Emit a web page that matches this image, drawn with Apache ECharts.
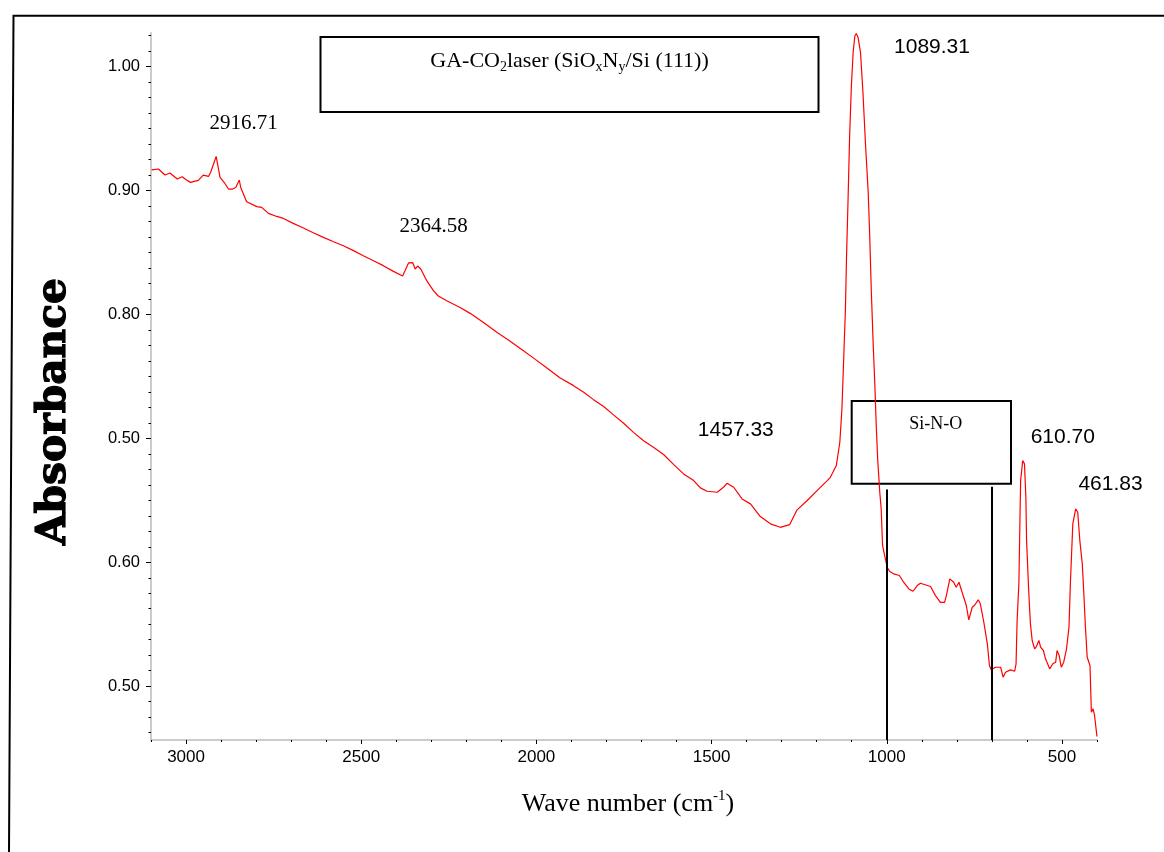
<!DOCTYPE html>
<html>
<head>
<meta charset="utf-8">
<title>FTIR GA-CO2laser</title>
<script src="https://cdn.jsdelivr.net/npm/echarts@6/dist/echarts.min.js"></script>
<style>
  html, body { margin: 0; padding: 0; background: #fff; }
  #main { width: 1164px; height: 852px; }
</style>
</head>
<body>
<div id="main"></div>
<script>
// spectrum (cm-1 / absorbance)
var wavenumber = [3098, 3079, 3060, 3046, 3025, 3011, 3000, 2987, 2965, 2951, 2936, 2930, 2914, 2910, 2903, 2889, 2879, 2867, 2858, 2848,
    2844, 2827, 2798, 2784, 2765, 2741, 2722, 2694, 2665, 2637, 2608, 2579, 2551, 2522, 2494, 2465, 2437, 2408, 2382, 2375,
    2365, 2353, 2346, 2339, 2330, 2313, 2294, 2280, 2256, 2218, 2189, 2151, 2113, 2080, 2043, 2006, 1969, 1932, 1894, 1865,
    1837, 1808, 1780, 1751, 1723, 1694, 1666, 1637, 1608, 1580, 1551, 1532, 1513, 1484, 1466, 1456, 1437, 1413, 1389, 1361,
    1332, 1304, 1277, 1256, 1227, 1199, 1170, 1161, 1144, 1134, 1128, 1123, 1118, 1115, 1110, 1106, 1101, 1096, 1091, 1087,
    1082, 1075, 1068, 1061, 1053, 1049, 1044, 1039, 1034, 1030, 1026, 1020, 1016, 1012, 1007, 999, 992, 980, 964, 952,
    937, 925, 913, 904, 875, 861, 847, 835, 830, 820, 815, 809, 802, 794, 785, 773, 766, 761, 756, 750,
    739, 733, 723, 713, 707, 702, 690, 675, 668, 661, 647, 635, 631, 628, 623, 618, 612, 607, 603, 601,
    595, 590, 585, 578, 573, 566, 561, 553, 547, 535, 526, 518, 514, 508, 502, 495, 487, 480, 476, 471,
    469, 461, 455, 449, 442, 438, 433, 428, 420, 416, 411, 407, 401, 400];
var absorbance = [0.9165, 0.9173, 0.9124, 0.9140, 0.9092, 0.9110, 0.9086, 0.9065, 0.9081, 0.9124, 0.9113, 0.9145, 0.9274, 0.9266, 0.9105, 0.9056, 0.9011, 0.9011, 0.9024, 0.9084,
    0.9024, 0.8909, 0.8869, 0.8863, 0.8815, 0.8790, 0.8774, 0.8734, 0.8697, 0.8659, 0.8621, 0.8586, 0.8554, 0.8514, 0.8473, 0.8433, 0.8393, 0.8347, 0.8310, 0.8352,
    0.8415, 0.8417, 0.8366, 0.8390, 0.8366, 0.8272, 0.8191, 0.8148, 0.8110, 0.8056, 0.8008, 0.7935, 0.7855, 0.7794, 0.7719, 0.7643, 0.7566, 0.7487, 0.7425, 0.7371,
    0.7312, 0.7256, 0.7189, 0.7121, 0.7048, 0.6981, 0.6927, 0.6869, 0.6788, 0.6713, 0.6659, 0.6600, 0.6573, 0.6565, 0.6605, 0.6637, 0.6605, 0.6511, 0.6471, 0.6369,
    0.6310, 0.6282, 0.6304, 0.6423, 0.6498, 0.6578, 0.6659, 0.6685, 0.6780, 0.6968, 0.7237, 0.7640, 0.8044, 0.8447, 0.8984, 0.9441, 0.9844, 1.0113, 1.0248, 1.0265,
    1.0234, 1.0113, 0.9790, 0.9387, 0.8984, 0.8661, 0.8177, 0.7774, 0.7425, 0.7102, 0.6834, 0.6565, 0.6431, 0.6135, 0.6068, 0.5960, 0.5927, 0.5906, 0.5893, 0.5839,
    0.5785, 0.5766, 0.5812, 0.5831, 0.5804, 0.5731, 0.5677, 0.5677, 0.5731, 0.5866, 0.5879, 0.5839, 0.5798, 0.5839, 0.5758, 0.5651, 0.5535, 0.5530, 0.5637, 0.5651,
    0.5697, 0.5665, 0.5516, 0.5342, 0.5167, 0.5132, 0.5153, 0.5153, 0.5073, 0.5113, 0.5132, 0.5121, 0.5181, 0.5530, 0.5826, 0.6659, 0.6820, 0.6794, 0.6524, 0.6175,
    0.5772, 0.5503, 0.5369, 0.5302, 0.5320, 0.5369, 0.5315, 0.5288, 0.5221, 0.5140, 0.5181, 0.5194, 0.5288, 0.5248, 0.5153, 0.5194, 0.5302, 0.5476, 0.5826, 0.6175,
    0.6310, 0.6431, 0.6403, 0.6175, 0.5987, 0.5772, 0.5476, 0.5234, 0.5167, 0.4790, 0.4818, 0.4764, 0.4616, 0.4594];

// axis ticks (the y labels are kept as printed in the figure)
var xTickValues = [500, 1000, 1500, 2000, 2500, 3000];
var xTickLabels = ['500', '1000', '1500', '2000', '2500', '3000'];
var yTickValues = [0.5, 0.6, 0.7, 0.8, 0.9, 1.0];
var yTickLabels = ['0.50', '0.60', '0.50', '0.80', '0.90', '1.00'];

// Si-N-O band markers
var bandLines = [1000, 700];
var bandTops = [0.6586, 0.661];

var xMin = 400, xMax = 3100;
var yMin = 0.4566, yMax = 1.027;

var xMinor = [];
for (var w = 400; w <= 3100; w += 100) xMinor.push(w);
var yMinor = [];
for (var k = -3; k <= 42; k++) yMinor.push(+(0.5 + k * 0.0125).toFixed(4));

function pickLabel(values, labels) {
    return function (v) {
        for (var i = 0; i < values.length; i++) {
            if (Math.abs(values[i] - v) < 1e-6) return labels[i];
        }
        return '';
    };
}

var chart = echarts.init(document.getElementById('main'), null, { renderer: 'canvas' });

// fit the bold y title to its length in the figure
var measure = document.createElement('canvas').getContext('2d');
measure.font = 'bold 41px "DejaVu Serif"';
var absScale = 267 / measure.measureText('Absorbance').width;

var serif = '"Liberation Serif", "Times New Roman", serif';
var sans = '"Liberation Sans", Arial, sans-serif';

var option = {
    animation: false,
    backgroundColor: '#ffffff',
    grid: { left: 151, right: 67, top: 33, bottom: 112, containLabel: false },
    xAxis: [
        {
            type: 'value', min: xMin, max: xMax, inverse: true, position: 'bottom',
            axisLine: { show: true, lineStyle: { color: '#cccccc', width: 2 } },
            axisTick: { show: true, customValues: xTickValues, length: 4, lineStyle: { color: '#000', width: 1 } },
            axisLabel: {
                customValues: xTickValues, formatter: pickLabel(xTickValues, xTickLabels),
                color: '#000', fontSize: 17, fontFamily: sans, margin: 9
            },
            splitLine: { show: false }
        },
        {
            type: 'value', min: xMin, max: xMax, inverse: true, position: 'bottom',
            axisLine: { show: false },
            axisTick: { show: true, customValues: xMinor, length: 2, lineStyle: { color: '#000', width: 1 } },
            axisLabel: { show: false, customValues: xMinor },
            splitLine: { show: false }
        }
    ],
    yAxis: [
        {
            type: 'value', min: yMin, max: yMax, position: 'left',
            axisLine: { show: true, lineStyle: { color: '#cccccc', width: 2 } },
            axisTick: { show: true, customValues: yTickValues, length: 5, lineStyle: { color: '#000', width: 1 } },
            axisLabel: {
                customValues: yTickValues, formatter: pickLabel(yTickValues, yTickLabels),
                color: '#000', fontSize: 16.5, fontFamily: sans, margin: 11
            },
            splitLine: { show: false }
        },
        {
            type: 'value', min: yMin, max: yMax, position: 'left',
            axisLine: { show: false },
            axisTick: { show: true, customValues: yMinor, length: 2.5, lineStyle: { color: '#000', width: 1 } },
            axisLabel: { show: false, customValues: yMinor },
            splitLine: { show: false }
        }
    ],
    series: [
        {
            type: 'line',
            xAxisIndex: 0,
            yAxisIndex: 0,
            data: wavenumber.map(function (w, i) { return [w, absorbance[i]]; }),
            showSymbol: false,
            symbol: 'none',
            lineStyle: { color: '#ff0000', width: 1.2 },
            markLine: {
                silent: true,
                symbol: 'none',
                label: { show: false },
                lineStyle: { color: '#000', width: 2, type: 'solid' },
                data: bandLines.map(function (b, i) {
                    return [{ coord: [b, bandTops[i]] }, { coord: [b, yMin] }];
                })
            }
        }
    ],
    graphic: [
        // outer frame (top and left edge only)
        {
            type: 'polyline',
            shape: { points: [[1164, 15.7], [13.5, 15.7], [9, 852]] },
            style: { stroke: '#000', lineWidth: 2, fill: null }
        },
        {
            type: 'rect',
            shape: { x: 320.5, y: 37, width: 498, height: 75 },
            style: { stroke: '#000', lineWidth: 2, fill: null }
        },
        {
            type: 'text', x: 569.5, y: 61,
            style: {
                text: '{n|GA-CO}{s|2}{n|laser (SiO}{s|x}{n|N}{s|y}{n|/Si (111))}',
                align: 'center', verticalAlign: 'middle', fill: '#000',
                rich: {
                    n: { fontFamily: serif, fontSize: 22, lineHeight: 26, fill: '#000' },
                    s: { fontFamily: serif, fontSize: 14, lineHeight: 12, verticalAlign: 'bottom', fill: '#000' }
                }
            }
        },
        {
            type: 'rect',
            shape: { x: 851.7, y: 401, width: 159.3, height: 82.7 },
            style: { stroke: '#000', lineWidth: 2, fill: '#fff' }
        },
        {
            type: 'text', x: 935.7, y: 424.5,
            style: { text: 'Si-N-O', font: '18px ' + serif, fill: '#000', align: 'center', verticalAlign: 'middle' }
        },
        // peak labels
        { type: 'text', x: 243.7, y: 123.3, style: { text: '2916.71', font: '21px ' + serif, fill: '#000', align: 'center', verticalAlign: 'middle' } },
        { type: 'text', x: 433.5, y: 226, style: { text: '2364.58', font: '21px ' + serif, fill: '#000', align: 'center', verticalAlign: 'middle' } },
        { type: 'text', x: 735.8, y: 430.5, style: { text: '1457.33', font: '21px ' + sans, fill: '#000', align: 'center', verticalAlign: 'middle' } },
        { type: 'text', x: 932, y: 47, style: { text: '1089.31', font: '21px ' + sans, fill: '#000', align: 'center', verticalAlign: 'middle' } },
        { type: 'text', x: 1062.8, y: 436.8, style: { text: '610.70', font: '21px ' + sans, fill: '#000', align: 'center', verticalAlign: 'middle' } },
        { type: 'text', x: 1110.5, y: 484.2, style: { text: '461.83', font: '21px ' + sans, fill: '#000', align: 'center', verticalAlign: 'middle' } },
        // axis titles
        {
            type: 'text', x: 54, y: 411.5, rotation: Math.PI / 2, scaleX: absScale,
            style: {
                text: 'Absorbance', font: 'bold 41px "DejaVu Serif"', fill: '#000',
                stroke: '#000', lineWidth: 1.2, align: 'center', verticalAlign: 'middle'
            }
        },
        {
            type: 'text', x: 628, y: 804,
            style: {
                text: '{n|Wave number (cm}{p|-1}{n|)}',
                align: 'center', verticalAlign: 'middle', fill: '#000',
                rich: {
                    n: { fontFamily: serif, fontSize: 26, lineHeight: 30, fill: '#000' },
                    p: { fontFamily: serif, fontSize: 15, lineHeight: 14, verticalAlign: 'top', fill: '#000' }
                }
            }
        }
    ]
};

chart.setOption(option);
</script>
</body>
</html>
